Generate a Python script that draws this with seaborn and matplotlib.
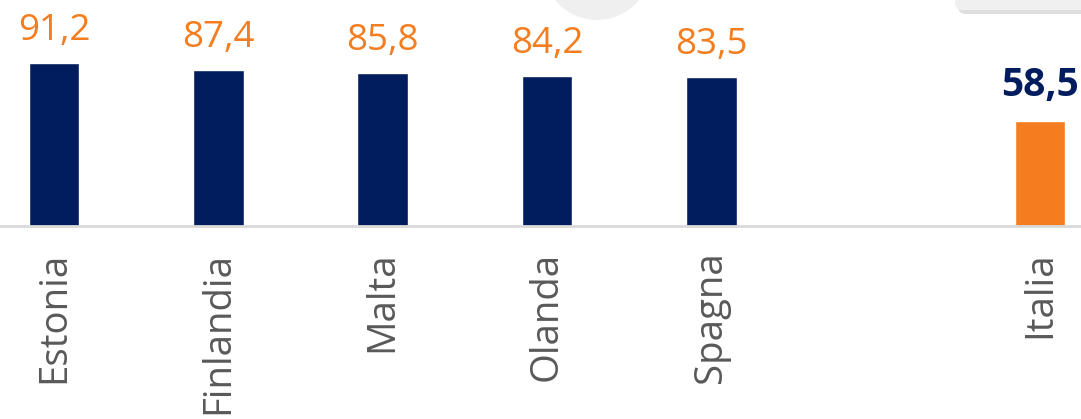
import matplotlib
matplotlib.use('Agg')
import matplotlib.pyplot as plt
from matplotlib.patches import Circle, FancyBboxPatch
import seaborn as sns
import pandas as pd

# ── Data ──
paesi = ["Estonia", "Finlandia", "Malta", "Olanda", "Spagna", "", "Italia"]
valori = [91.2, 87.4, 85.8, 84.2, 83.5, None, 58.5]
colori = ["#021D5E", "#021D5E", "#021D5E", "#021D5E", "#021D5E", "#FFFFFF", "#F47D20"]

df = pd.DataFrame({"paese": paesi, "valore": valori})

sns.set_theme(style="white")
plt.rcParams['font.family'] = ['Open Sans', 'DejaVu Sans']

W, H = 1081, 419
fig = plt.figure(figsize=(W / 100, H / 100), dpi=100)
ax = fig.add_axes([0, 1 - 226 / H, 1, 226 / H])

sns.barplot(data=df, x="paese", y="valore", hue="paese", order=paesi,
            palette=dict(zip(paesi, colori)), width=0.31, legend=False,
            saturation=1, ax=ax)

ax.set_xlim(-54 / 164.33, 6 + 41 / 164.33)
ax.set_ylim(0, 226 / 1.7873)

# value labels
for i, v in enumerate(valori):
    if v is None or pd.isna(v):
        continue
    testo = f"{v:.1f}".replace(".", ",")
    if paesi[i] == "Italia":
        ax.annotate(testo, (i, v), xytext=(0, 18), textcoords="offset points",
                    ha="center", va="baseline", fontsize=28, fontweight="bold",
                    color="#021D5E", annotation_clip=False)
    else:
        ax.annotate(testo, (i, v), xytext=(0, 16.5), textcoords="offset points",
                    ha="center", va="baseline", fontsize=26.5,
                    color="#F47D20", annotation_clip=False)

# axis styling
for s in ["top", "right", "left"]:
    ax.spines[s].set_visible(False)
ax.spines["bottom"].set_color("#D9D9D9")
ax.spines["bottom"].set_linewidth(2)
ax.set_yticks([])
ax.set_xlabel("")
ax.set_ylabel("")
ax.set_xticks(range(len(paesi)))
ax.set_xticklabels(paesi, rotation=90, fontsize=27.6, color="#595959")
ax.tick_params(axis="x", length=0, pad=18.4)

# decorations cut off at the top of the reference (pixel coords, origin bottom-left)
fig.patches.append(Circle((597, H + 34), 54, transform=None,
                          facecolor="#EFEFEF", edgecolor="none", zorder=0))
fig.patches.append(FancyBboxPatch((958, H - 14), 200, 60,
                                  boxstyle="round,pad=0,rounding_size=8",
                                  transform=None, facecolor="#C8C8C8",
                                  edgecolor="none", alpha=0.6, zorder=0))
fig.patches.append(FancyBboxPatch((955, H - 10), 200, 60,
                                  boxstyle="round,pad=0,rounding_size=8",
                                  transform=None, facecolor="#F0F0F0",
                                  edgecolor="none", zorder=0))

fig.savefig("out.png", dpi=100)
